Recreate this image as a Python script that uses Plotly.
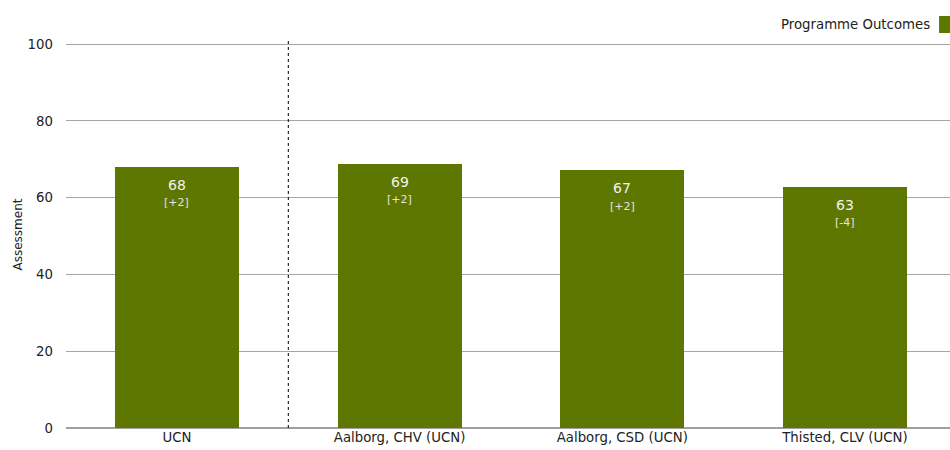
import plotly.graph_objects as go

categories = ["UCN", "Aalborg, CHV (UCN)", "Aalborg, CSD (UCN)", "Thisted, CLV (UCN)"]
values = [68.0, 68.8, 67.2, 62.8]
value_labels = ["68", "69", "67", "63"]
delta_labels = ["[+2]", "[+2]", "[+2]", "[-4]"]
series_name = "Programme Outcomes"
y_ticks = [0, 20, 40, 60, 80, 100]

BAR = "#5e7700"
FONT = "DejaVu Sans, Verdana, sans-serif"

fig = go.Figure()
fig.add_trace(go.Bar(
    x=list(range(len(categories))), y=values, name=series_name,
    marker=dict(color=BAR, line=dict(width=0)), width=0.557,
    hoverinfo="skip", showlegend=False,
))

for i, (v, vl, dl) in enumerate(zip(values, value_labels, delta_labels)):
    fig.add_annotation(x=i, y=v, xref="x", yref="y", text=vl, showarrow=False,
                       yanchor="middle", yshift=-18,
                       font=dict(family=FONT, size=14, color="#f2f2f2"))
    fig.add_annotation(x=i, y=v, xref="x", yref="y", text=dl, showarrow=False,
                       yanchor="middle", yshift=-36,
                       font=dict(family=FONT, size=11, color="#e2e2e2"))

# divider between overall and sub-units
fig.add_shape(type="line", xref="x", yref="y", x0=0.5, x1=0.5, y0=0, y1=100.8,
              line=dict(color="#000000", width=1, dash="dot"), layer="above")

# legend (symbol right of text)
fig.add_annotation(xref="paper", yref="paper", x=0.9796, y=1.0426, text=series_name,
                   showarrow=False, xanchor="right", yanchor="middle",
                   font=dict(family=FONT, size=13.3, color="#222222"))
fig.add_shape(type="rect", xref="paper", yref="paper", x0=0.9876, x1=1.0068,
              y0=1.0207, y1=1.0646, fillcolor=BAR, line=dict(width=0))

# y-axis title
fig.add_annotation(xref="paper", yref="paper", x=-0.0554, y=0.5, text="Assessment",
                   showarrow=False, textangle=-90, xanchor="center", yanchor="middle",
                   font=dict(family=FONT, size=12, color="#222222"))

fig.update_layout(
    width=950, height=450,
    margin=dict(l=66, r=0, t=41, b=22, autoexpand=False),
    paper_bgcolor="white", plot_bgcolor="white",
    bargap=0,
    font=dict(family=FONT, size=13, color="#222222"),
    xaxis=dict(range=[-0.4985, 3.472], tickmode="array",
               tickvals=list(range(len(categories))), ticktext=categories,
               showgrid=False, zeroline=False, showline=False, ticks="",
               tickfont=dict(family=FONT, size=13.3, color="#222222"),
               fixedrange=True, automargin=False),
    yaxis=dict(range=[0, 100.8], tickmode="array", tickvals=y_ticks,
               showgrid=True, gridcolor="#a6a6a6", gridwidth=1,
               zeroline=True, zerolinecolor="#a0a0a0", zerolinewidth=1.5,
               showline=False, ticks="", ticklabelstandoff=12,
               tickfont=dict(family=FONT, size=13.3, color="#222222"),
               fixedrange=True, automargin=False),
)

fig.write_html("out.html", config={"displayModeBar": False, "staticPlot": True},
               post_script="document.body.style.margin='0';")
